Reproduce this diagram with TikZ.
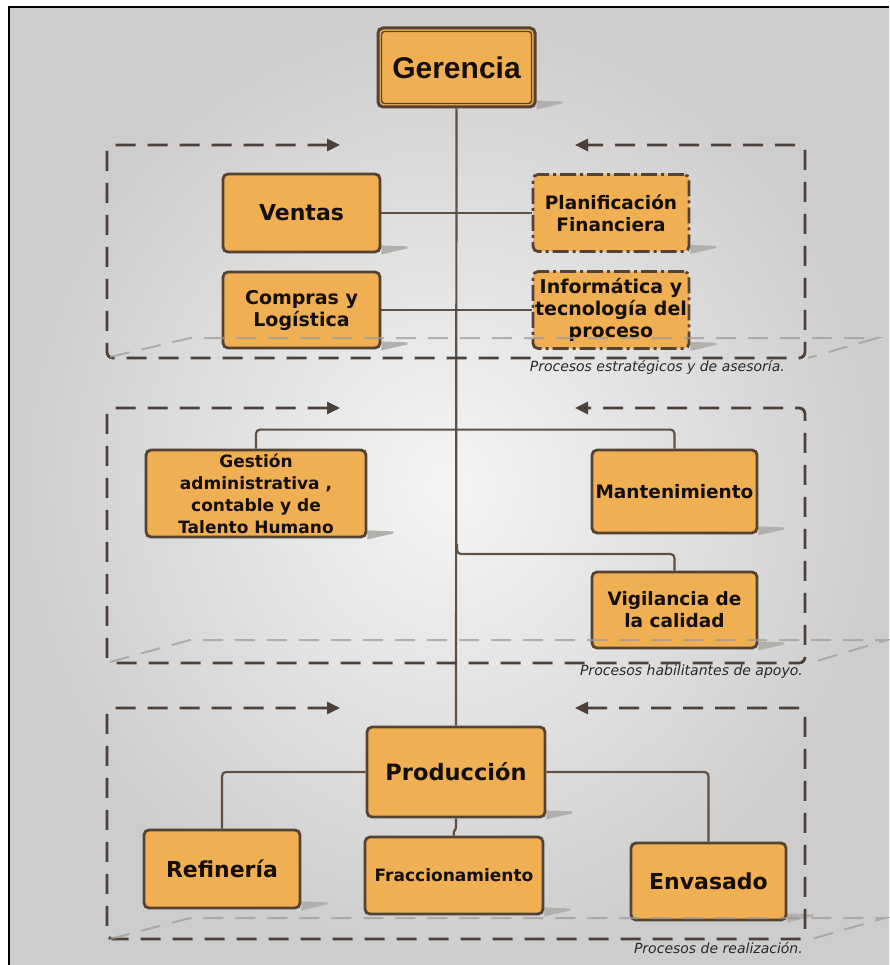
\documentclass[tikz,border=0pt]{standalone}
\usepackage{fontspec}
\setmainfont{DejaVu Sans}
\newfontfamily\gerfont{Liberation Sans}
\usetikzlibrary{arrows.meta,calc}
\definecolor{boxfill}{RGB}{239,175,82}
\definecolor{boxline}{RGB}{84,66,50}
\definecolor{linkcol}{RGB}{96,80,68}
\definecolor{dashcol}{RGB}{77,64,56}
\definecolor{floorcol}{RGB}{160,156,152}
\definecolor{txt}{RGB}{20,15,10}
\definecolor{captxt}{RGB}{40,40,40}
\definecolor{shadowcol}{RGB}{178,176,173}
\definecolor{bgin}{RGB}{245,245,245}
\definecolor{bgout}{RGB}{205,205,205}
\pgfdeclarelayer{bg}
\pgfdeclarelayer{shad}
\pgfsetlayers{bg,shad,main}
\newcommand\fs[1]{\fontsize{#1}{22}\selectfont}
\newcommand\boxshadow[1]{%
  \fill[shadowcol] ([shift={(0,-8)}]#1.south east) -- ([shift={(26,-7)}]#1.south east)
    -- ([shift={(26,-5)}]#1.south east) -- ([shift={(0,1)}]#1.south east) -- cycle;}
\begin{document}
\begin{tikzpicture}[x=1pt,y=-1pt,
  obox/.style={draw=boxline, fill=boxfill, line width=2.8pt, rounded corners=5pt,
    inner sep=0pt, align=center, text=txt, font=\bfseries},
  dbox/.style={obox, dash pattern=on 16pt off 4pt on 3pt off 4pt},
  link/.style={draw=linkcol, line width=2.2pt, rounded corners=4pt},
  procframe/.style={draw=dashcol, line width=2.8pt, dash pattern=on 20pt off 12pt,
    rounded corners=6pt, {Triangle[length=13pt,width=12pt]}-{Triangle[length=13pt,width=12pt]}},
  floorline/.style={draw=floorcol, line width=2pt, dash pattern=on 20pt off 12pt, opacity=0.75},
  captext/.style={font=\itshape\fontsize{14}{16}\selectfont, text=captxt, inner sep=0pt}
]
\useasboundingbox (0,0) rectangle (889,965);

% nodes
\node[obox, line width=3pt, minimum width=157pt, minimum height=79pt,
  font=\gerfont\bfseries\fontsize{30}{34}\selectfont] (ger) at (456.5,67.5) {Gerencia};
\draw[boxline, line width=1.4pt, rounded corners=3pt]
  ([shift={(5,5)}]ger.north west) rectangle ([shift={(-5,-5)}]ger.south east);

\node[obox, minimum width=157pt, minimum height=78pt, font=\bfseries\fs{22}] (ven) at (301.5,213) {Ventas};
\node[obox, minimum width=157pt, minimum height=76pt, font=\bfseries\fs{19}] (com) at (301.5,310) {Compras y\\Logística};
\node[dbox, minimum width=156pt, minimum height=77pt, font=\bfseries\fs{18.5}] (pla) at (611,213) {Planificación\\Financiera};
\node[dbox, minimum width=156pt, minimum height=77pt, font=\bfseries\fs{19}] (inf) at (611,310) {Informática y\\tecnología del\\proceso};

\node[obox, minimum width=220pt, minimum height=87pt, font=\bfseries\fs{17}] (ges) at (256,493.5) {Gestión\\administrativa ,\\contable y de\\Talento Humano};
\node[obox, minimum width=165pt, minimum height=83pt, font=\bfseries\fs{18.5}] (man) at (674.5,491.5) {Mantenimiento};
\node[obox, minimum width=165pt, minimum height=76pt, font=\bfseries\fs{18.5}] (vig) at (674.5,610) {Vigilancia de\\la calidad};

\node[obox, minimum width=178pt, minimum height=90pt, font=\bfseries\fs{22.5}] (pro) at (456,772) {Producción};
\node[obox, minimum width=156pt, minimum height=78pt, font=\bfseries\fs{22}] (ref) at (222,869) {Refinería};
\node[obox, minimum width=178pt, minimum height=77pt, font=\bfseries\fs{17}] (fra) at (454,875.5) {Fraccionamiento};
\node[obox, minimum width=155pt, minimum height=77pt, font=\bfseries\fs{22}] (env) at (708.5,881.5) {Envasado};

% captions
\node[captext, anchor=east] (c1) at (785,367) {Procesos estratégicos y de asesoría.};
\node[captext, anchor=east] (c2) at (803,672) {Procesos habilitantes de apoyo.};
\node[captext, anchor=east] (c3) at (803,948) {Procesos de realización.};

\coordinate (jv) at (457,554);

\begin{pgfonlayer}{bg}
  \fill[white] (0,0) rectangle (889,965);
  \shade[inner color=bgin, outer color=bgout] (9,7) rectangle (889,965);
  \draw[black, line width=2.5pt] (9,965) -- (9,7) -- (889,7);
\end{pgfonlayer}

\begin{pgfonlayer}{shad}
  \boxshadow{ger}\boxshadow{ven}\boxshadow{com}\boxshadow{pla}\boxshadow{inf}
  \boxshadow{ges}\boxshadow{man}\boxshadow{vig}
  \boxshadow{pro}\boxshadow{ref}\boxshadow{fra}\boxshadow{env}
  % connectors
  \draw[link] (ger.south) -- (pro.north);
  \draw[link] (ven.east) -- (pla.west);
  \draw[link] (com.east) -- (inf.west);
  \draw[link] (ges.north) -- ++(0,-19) -| (man.north);
  \draw[link] ([yshift=10pt]jv) -- (jv) -| (vig.north);
  \draw[link] (pro.west) -| (ref.north);
  \draw[link] (pro.east) -| (env.north);
  \draw[link, rounded corners=1pt] (pro.south) -- ++(0,10) -- ++(-2.5,4) -- (fra.north);
  % dashed frames
  \draw[procframe] (340,145) -- (107,145) -- (107,358) -- (805,358) -- (805,145) -- (575,145);
  \draw[procframe] (340,408) -- (107,408) -- (107,663) -- (805,663) -- (805,408) -- (575,408);
  \draw[procframe] (340,708) -- (107,708) -- (107,939) -- (805,939) -- (805,708) -- (575,708);
\end{pgfonlayer}

% floor lines (over boxes, translucent)
\draw[floorline] (110,357) -- (190,338) -- (877,338) -- (808,358);
\draw[floorline] (110,662) -- (190,640) -- (887,640) -- (810,663);
\draw[floorline] (110,939) -- (190,918) -- (885,918) -- (808,940);
\end{tikzpicture}
\end{document}
